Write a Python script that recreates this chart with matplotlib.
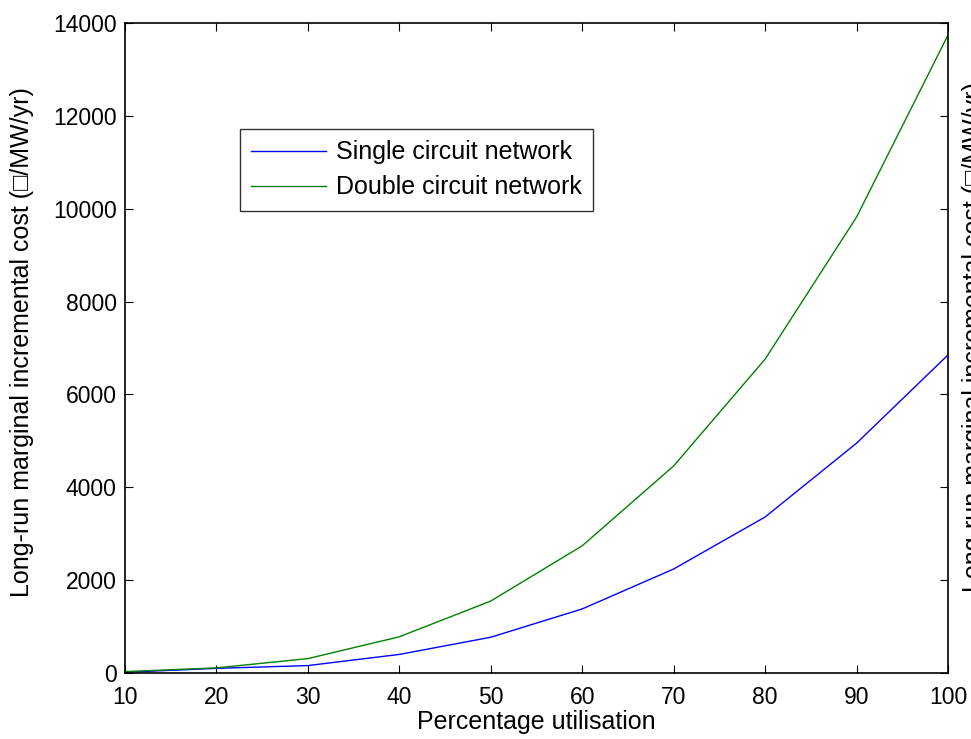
import matplotlib
matplotlib.use("Agg")
import matplotlib.pyplot as plt

plt.rcParams['font.family'] = ['Liberation Sans', 'DejaVu Sans']

utilisation = [10, 20, 30, 40, 50, 60, 70, 80, 90, 100]
single_circuit = [15, 100, 160, 400, 770, 1380, 2240, 3360, 4950, 6850]
double_circuit = [30, 110, 310, 780, 1550, 2740, 4460, 6760, 9820, 13740]
xticks = [10, 20, 30, 40, 50, 60, 70, 80, 90, 100]
yticks = [0, 2000, 4000, 6000, 8000, 10000, 12000, 14000]
ylabel = "Long-run marginal incremental cost (\u25a1/MW/yr)"

W, H = 971, 739
fig = plt.figure(figsize=(W / 100, H / 100), dpi=100)
ax = fig.add_axes([125 / W, 1 - 673 / H, (948 - 125) / W, (673 - 23) / H])

ax.plot(utilisation, single_circuit, color='#0000ff', lw=1.0, label='Single circuit network')
ax.plot(utilisation, double_circuit, color='#008000', lw=1.0, label='Double circuit network')

ax.set_xlim(10, 100)
ax.set_ylim(0, 14000)
ax.set_xticks(xticks)
ax.set_yticks(yticks)
ax.tick_params(direction='in', top=True, right=True, labelsize=16.5, length=6, width=0.8)
ax.tick_params(axis='x', pad=9)
ax.tick_params(axis='y', pad=6)
for s in ax.spines.values():
    s.set_linewidth(1.2)

ax.set_xlabel("Percentage utilisation", fontsize=18, va='center')
ax.xaxis.set_label_coords(0.5, -(722 - 673) / 650)
ax.set_ylabel(ylabel, fontsize=18, va='center')
ax.yaxis.set_label_coords(-(125 - 22) / 823, (673 - 342) / 650)

leg = ax.legend(loc='upper left', bbox_to_anchor=((240 - 125) / 823, (673 - 129) / 650),
                fontsize=18, frameon=True, fancybox=False, edgecolor='black',
                handlelength=3.0, borderpad=0.45, labelspacing=0.45, handletextpad=0.4,
                borderaxespad=0)
leg.get_frame().set_linewidth(1.0)

# clipped duplicate label at the right edge
fig.text(962 / W, 1 - 592 / H, ylabel, rotation=90, ha='left', va='bottom', fontsize=18)

fig.savefig("out.png", dpi=100)
